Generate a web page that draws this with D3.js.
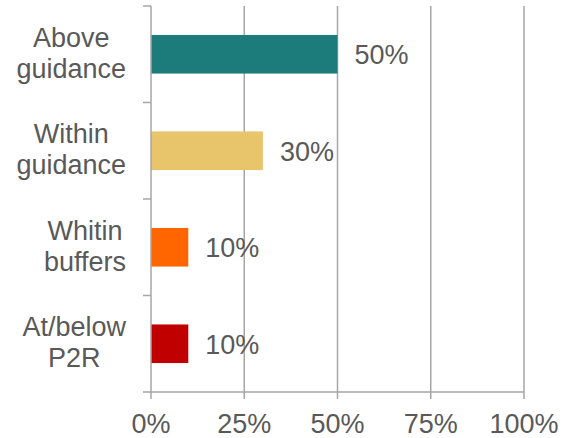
<!DOCTYPE html>
<html>
<head>
<meta charset="utf-8">
<script src="https://cdn.jsdelivr.net/npm/d3@7"></script>
<style>
  html, body { margin: 0; padding: 0; background: #ffffff; }
  svg { display: block; }
  text { font-family: "Liberation Sans", Arial, sans-serif; fill: #595959; }
</style>
</head>
<body>
<svg id="chart" width="564" height="438"></svg>
<script>
// Share of banks by capital position relative to guidance
const categories = [["Above", "guidance"], ["Within", "guidance"], ["Whitin", "buffers"], ["At/below", "P2R"]];
const values = [0.50, 0.30, 0.10, 0.10];
const colors = ["#1c7b7b", "#e8c46a", "#ff6600", "#c00000"];
const xTicks = [0, 0.25, 0.5, 0.75, 1];

const width = 564, height = 438;
const margin = { top: 6, right: 40, bottom: 46, left: 151 };
const fontSize = 27;
const gridColor = "#a6a6a6";

const svg = d3.select("#chart");

const x = d3.scaleLinear()
  .domain([0, 1])
  .range([margin.left, width - margin.right]);

const y = d3.scaleBand()
  .domain(d3.range(categories.length))
  .range([margin.top, height - margin.bottom])
  .paddingInner(0.6)
  .paddingOuter(0.3);

// band boundaries for the category tick marks
const step = (height - margin.bottom - margin.top) / categories.length;
const bandEdges = d3.range(categories.length + 1).map(i => margin.top + i * step);

// vertical gridlines (extend down through the tick marks)
svg.append("g")
  .selectAll("line")
  .data(xTicks.slice(1))
  .join("line")
  .attr("x1", d => x(d)).attr("x2", d => x(d))
  .attr("y1", margin.top).attr("y2", height - margin.bottom + 7)
  .attr("stroke", gridColor).attr("stroke-width", 1.5);

// bars
svg.append("g")
  .selectAll("rect")
  .data(values)
  .join("rect")
  .attr("x", x(0))
  .attr("y", (d, i) => y(i))
  .attr("width", d => x(d) - x(0))
  .attr("height", y.bandwidth())
  .attr("fill", (d, i) => colors[i]);

// value labels
svg.append("g")
  .selectAll("text")
  .data(values)
  .join("text")
  .attr("x", d => x(d) + 17)
  .attr("y", (d, i) => y(i) + y.bandwidth() / 2)
  .attr("dy", "0.37em")
  .attr("font-size", fontSize)
  .text(d => d3.format(".0%")(d));

// left axis line with category boundary ticks
const axisG = svg.append("g")
  .attr("stroke", gridColor).attr("stroke-width", 1.5);
axisG.append("line")
  .attr("x1", x(0)).attr("x2", x(0))
  .attr("y1", margin.top).attr("y2", height - margin.bottom + 7);
axisG.selectAll("line.tick")
  .data(bandEdges)
  .join("line")
  .attr("class", "tick")
  .attr("x1", x(0) - 8).attr("x2", x(0))
  .attr("y1", d => d).attr("y2", d => d);

// bottom axis line
axisG.append("line")
  .attr("x1", x(0)).attr("x2", x(1))
  .attr("y1", height - margin.bottom).attr("y2", height - margin.bottom);

// bottom tick labels
svg.append("g")
  .selectAll("text")
  .data(xTicks)
  .join("text")
  .attr("x", d => x(d))
  .attr("y", 433)
  .attr("text-anchor", "middle")
  .attr("font-size", fontSize)
  .text(d => d3.format(".0%")(d));

// two-line category labels, centred as a block that ends at a fixed right edge
const labelRight = 126;
const lineH = 31;
const catG = svg.append("g");
categories.forEach((lines, i) => {
  const cy = y(i) + y.bandwidth() / 2;
  const t = catG.append("text")
    .attr("font-size", fontSize)
    .attr("text-anchor", "middle");
  const spans = lines.map((s, j) => t.append("tspan")
    .attr("y", cy - lineH / 2 + j * lineH)
    .attr("dy", "0.30em")
    .text(s));
  const maxW = d3.max(spans, sp => sp.node().getComputedTextLength());
  spans.forEach(sp => sp.attr("x", labelRight - maxW / 2));
});
</script>
</body>
</html>
